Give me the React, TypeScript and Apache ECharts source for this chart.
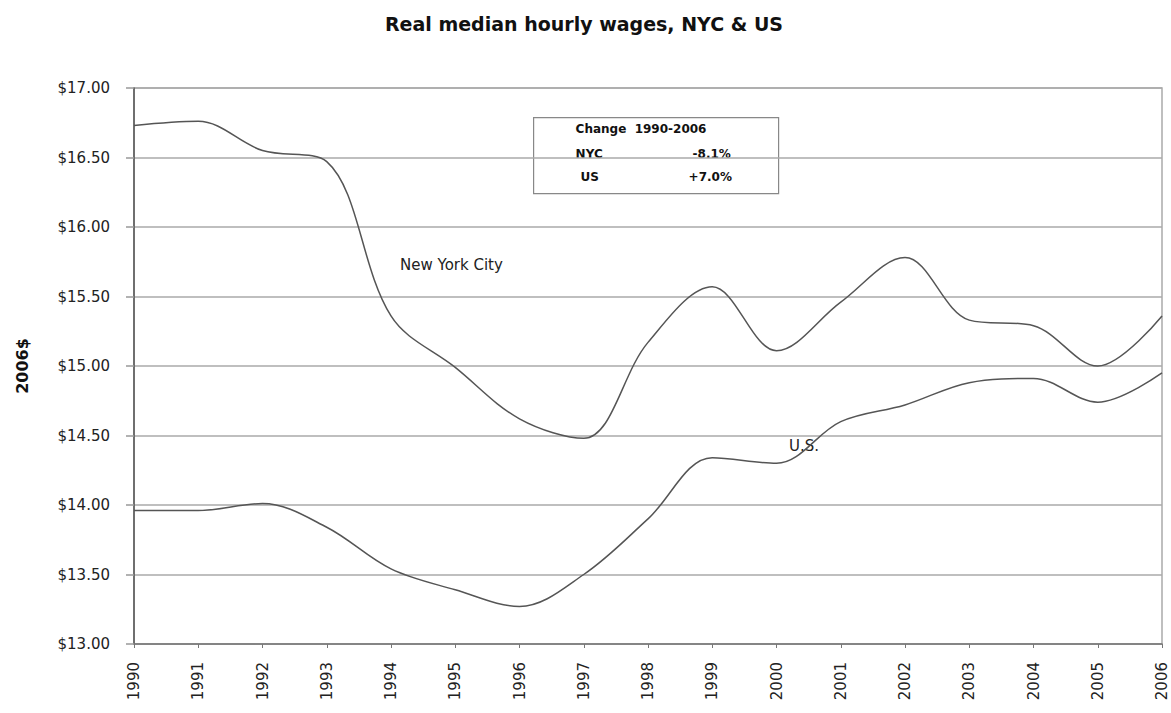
import React, { useEffect, useRef } from "react";
import * as echarts from "echarts";

const years = ["1990","1991","1992","1993","1994","1995","1996","1997","1998","1999","2000","2001","2002","2003","2004","2005","2006"];
const nycWages = [16.73, 16.76, 16.55, 16.47, 15.36, 14.99, 14.62, 14.48, 15.17, 15.57, 15.11, 15.46, 15.78, 15.33, 15.29, 15.0, 15.36];
const usWages = [13.96, 13.96, 14.01, 13.84, 13.54, 13.39, 13.27, 13.5, 13.9, 14.34, 14.3, 14.6, 14.72, 14.88, 14.91, 14.74, 14.95];
const yTicks = { min: 13, max: 17, interval: 0.5 };
const boxTitle = "Change  1990-2006";
const boxRows = [["NYC", "-8.1%"], ["US", "+7.0%"]];

const FONT = "'DejaVu Sans', 'Liberation Sans', Arial, sans-serif";

export default function App() {
  const ref = useRef<HTMLDivElement>(null);
  useEffect(() => {
    const chart = echarts.init(ref.current!, null, { renderer: "svg" });
    chart.setOption({
      animation: false,
      backgroundColor: "#fff",
      title: {
        text: "Real median hourly wages, NYC & US",
        left: 579,
        textAlign: "center",
        top: 9,
        textStyle: { fontFamily: FONT, fontSize: 19, fontWeight: "bold", color: "#111" },
      },
      grid: { left: 134, right: 9, top: 88, bottom: 69, show: true, borderColor: "#aaa", borderWidth: 1.5 },
      xAxis: {
        type: "category",
        data: years,
        boundaryGap: false,
        axisLine: { lineStyle: { color: "#777", width: 1.5 } },
        axisTick: { show: true, length: 4, lineStyle: { color: "#777" }, alignWithLabel: true },
        axisLabel: { rotate: 90, fontFamily: FONT, fontSize: 15, color: "#222", margin: 18 },
        splitLine: { show: false },
      },
      yAxis: {
        type: "value",
        min: yTicks.min,
        max: yTicks.max,
        interval: yTicks.interval,
        name: "2006$",
        nameLocation: "middle",
        nameGap: 104,
        nameRotate: 90,
        nameTextStyle: { fontFamily: FONT, fontSize: 16, fontWeight: "bold", color: "#111" },
        axisLine: { show: true, lineStyle: { color: "#555", width: 1.5 } },
        axisTick: { show: true, length: 8, lineStyle: { color: "#999", width: 1.5 } },
        axisLabel: {
          fontFamily: FONT,
          fontSize: 15,
          color: "#222",
          margin: 24,
          formatter: (v: number) => "$" + v.toFixed(2),
        },
        splitLine: { lineStyle: { color: "#aaa", width: 1.5 } },
      },
      series: [
        {
          name: "New York City",
          type: "line",
          data: nycWages,
          smooth: 0.35,
          symbol: "none",
          lineStyle: { color: "#555", width: 1.5 },
        },
        {
          name: "U.S.",
          type: "line",
          data: usWages,
          smooth: 0.35,
          symbol: "none",
          lineStyle: { color: "#555", width: 1.5 },
        },
      ],
      graphic: [
        {
          type: "text",
          left: 400,
          top: 257,
          style: { text: "New York City", font: `15px ${FONT}`, fill: "#222" },
        },
        {
          type: "text",
          left: 789,
          top: 438,
          style: { text: "U.S.", font: `15px ${FONT}`, fill: "#222" },
        },
        {
          type: "group",
          left: 533,
          top: 117,
          children: [
            { type: "rect", shape: { x: 0, y: 0, width: 245, height: 76 }, style: { fill: "#fff", stroke: "#888", lineWidth: 1.2 } },
            { type: "text", x: 42, y: 5, style: { text: boxTitle, font: `bold 12px ${FONT}`, fill: "#111" } },
            { type: "text", x: 42, y: 30, style: { text: boxRows[0][0], font: `bold 12px ${FONT}`, fill: "#111" } },
            { type: "text", x: 159, y: 30, style: { text: boxRows[0][1], font: `bold 12px ${FONT}`, fill: "#111" } },
            { type: "text", x: 47, y: 53, style: { text: boxRows[1][0], font: `bold 12px ${FONT}`, fill: "#111" } },
            { type: "text", x: 155, y: 53, style: { text: boxRows[1][1], font: `bold 12px ${FONT}`, fill: "#111" } },
          ],
        },
      ],
    });
    return () => chart.dispose();
  }, []);
  return <div ref={ref} style={{ width: 1171, height: 713, position: "absolute", left: 0, top: 0 }} />;
}
